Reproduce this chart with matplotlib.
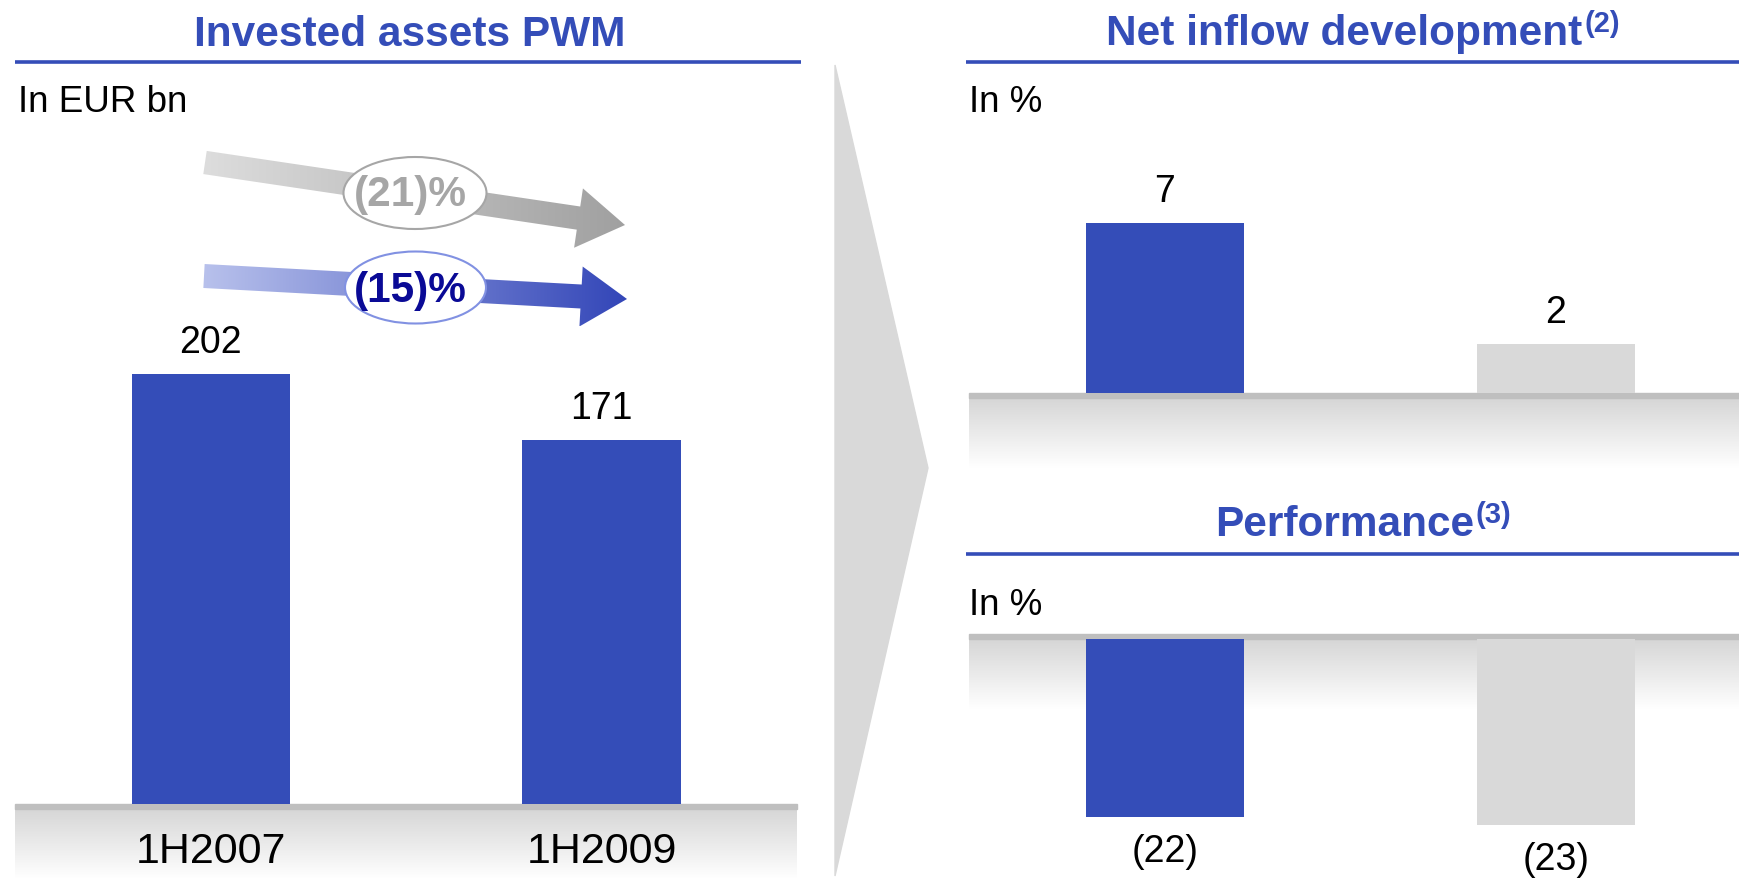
import numpy as np
import matplotlib.pyplot as plt
from matplotlib.patches import Polygon, Ellipse, Rectangle
from matplotlib.colors import LinearSegmentedColormap

plt.rcParams['font.family'] = ['Liberation Sans', 'DejaVu Sans']

W, H = 1740, 879

# data
periods = ['1H2007', '1H2009']
invested_assets = [202, 171]      # EUR bn
net_inflow = [7, 2]               # %
performance = [-22, -23]          # %
changes = ['(21)%', '(15)%']

BLUE = '#344DB8'
GREY = '#D9D9D9'
NAVY = '#0A0A96'

fig = plt.figure(figsize=(W / 100, H / 100), dpi=100)

# background layer in pixel coords (y down)
bg = fig.add_axes([0, 0, 1, 1])
bg.set_xlim(0, W)
bg.set_ylim(H, 0)
bg.set_autoscale_on(False)
bg.axis('off')


def px_axes(l, t, r, b):
    ax = fig.add_axes([l / W, 1 - b / H, (r - l) / W, (b - t) / H], zorder=2)
    ax.patch.set_alpha(0)
    ax.axis('off')
    return ax


floor_cmap = LinearSegmentedColormap.from_list('floor', ['#D6D6D6', '#FFFFFF'])


def floor(x0, x1, y_line):
    bg.add_patch(Rectangle((x0, y_line), x1 - x0, 5, color='#BFBFBF', zorder=1))
    bg.imshow(np.linspace(0, 1, 200).reshape(-1, 1), cmap=floor_cmap,
              extent=(x0, x1, y_line + 75, y_line + 5), origin='upper',
              aspect='auto', zorder=0)


def grad_arrow(start, tip, shaft_hw, head_hw, head_len, c0, c1):
    start, tip = np.array(start, float), np.array(tip, float)
    u = (tip - start) / np.linalg.norm(tip - start)
    n = np.array([-u[1], u[0]])
    base = tip - u * head_len
    pts = [start + n * shaft_hw, base + n * shaft_hw, base + n * head_hw, tip,
           base - n * head_hw, base - n * shaft_hw, start - n * shaft_hw]
    poly = Polygon(pts, closed=True, facecolor='none', edgecolor='none')
    bg.add_patch(poly)
    xs, ys = zip(*pts)
    cmap = LinearSegmentedColormap.from_list('arr', [c0, c1])
    im = bg.imshow(np.linspace(0, 1, 256).reshape(1, -1), cmap=cmap,
                   extent=(min(xs), max(xs), max(ys), min(ys)), origin='upper',
                   aspect='auto', zorder=1)
    im.set_clip_path(poly)


def title(x, y, s, sup=None):
    t = bg.text(x, y, s, ha='center', va='baseline', fontsize=30.5,
                weight='bold', color=BLUE)
    if sup:
        bg.annotate(sup, xy=(1, 1), xycoords=t, xytext=(1, 3),
                    textcoords='offset points', ha='left', va='top',
                    fontsize=21, weight='bold', color=BLUE)


# chevron separator
bg.add_patch(Polygon([(835, 66), (928, 469), (835, 877)], color=GREY, zorder=0))

# titles and rules
title(410, 45.5, 'Invested assets PWM')
title(1344.5, 45.5, 'Net inflow development', '(2)')
title(1344.5, 536, 'Performance', '(3)')
bg.plot([15.5, 801], [63, 63], color=BLUE, lw=2.6, solid_capstyle='butt')
bg.plot([966.5, 1740], [63, 63], color=BLUE, lw=2.6, solid_capstyle='butt')
bg.plot([966.5, 1740], [555, 555], color=BLUE, lw=2.6, solid_capstyle='butt')

bg.text(18, 112, 'In EUR bn', fontsize=26.5, va='baseline')
bg.text(969, 112, 'In %', fontsize=26.5, va='baseline')
bg.text(969, 615, 'In %', fontsize=26.5, va='baseline')

# floors
floor(15.5, 797, 805)
floor(969, 1740, 394)
floor(969, 1740, 635)

# change arrows
grad_arrow((205, 163.5), (625, 226), 11.7, 30, 47, '#DDDDDD', '#A0A0A0')
grad_arrow((204, 277), (627, 300), 12, 30, 46, '#B8C1EC', '#3346B8')
bg.add_patch(Ellipse((415, 194), 143, 72, facecolor='white', edgecolor='#A6A6A6', lw=1.5, zorder=2))
bg.add_patch(Ellipse((415.5, 288.5), 141, 72, facecolor='white', edgecolor='#8191E2', lw=1.5, zorder=2))
bg.text(410, 195, changes[0], ha='center', va='center', fontsize=30.5,
        weight='bold', color='#A6A6A6', zorder=3)
bg.text(410, 291, changes[1], ha='center', va='center', fontsize=30.5,
        weight='bold', color=NAVY, zorder=3)

# left: invested assets
ax1 = px_axes(15.5, 805 - 532, 797, 805)
ax1.set_xlim(-0.5, 1.5)
ax1.set_ylim(0, 250)
x = np.arange(len(periods))
ax1.bar(x, invested_assets, width=0.405, color=BLUE)
for i, v in enumerate(invested_assets):
    ax1.annotate(str(v), xy=(i, v), xytext=(0, 23), textcoords='offset points',
                 ha='center', va='center', fontsize=27)
    ax1.annotate(periods[i], xy=(i, 0), xytext=(0, -34), textcoords='offset points',
                 ha='center', va='center', fontsize=31, annotation_clip=False)

# right top: net inflow
ax2 = px_axes(969, 394 - 218.6, 1740, 394)
ax2.set_xlim(-0.501, 1.4706)
ax2.set_ylim(0, 9)
ax2.bar(x, net_inflow, width=0.403, color=[BLUE, GREY])
for i, v in enumerate(net_inflow):
    ax2.annotate(str(v), xy=(i, v), xytext=(0, 23), textcoords='offset points',
                 ha='center', va='center', fontsize=27)

# right bottom: performance
ax3 = px_axes(969, 640, 1740, 640 + 226)
ax3.set_xlim(-0.501, 1.4706)
ax3.set_ylim(-28, 0)
ax3.bar(x, performance, width=0.403, color=[BLUE, GREY])
for i, v in enumerate(performance):
    ax3.annotate('(%d)' % abs(v), xy=(i, v), xytext=(0, -25), textcoords='offset points',
                 ha='center', va='center', fontsize=27, annotation_clip=False)

fig.savefig('out.png', dpi=100)
